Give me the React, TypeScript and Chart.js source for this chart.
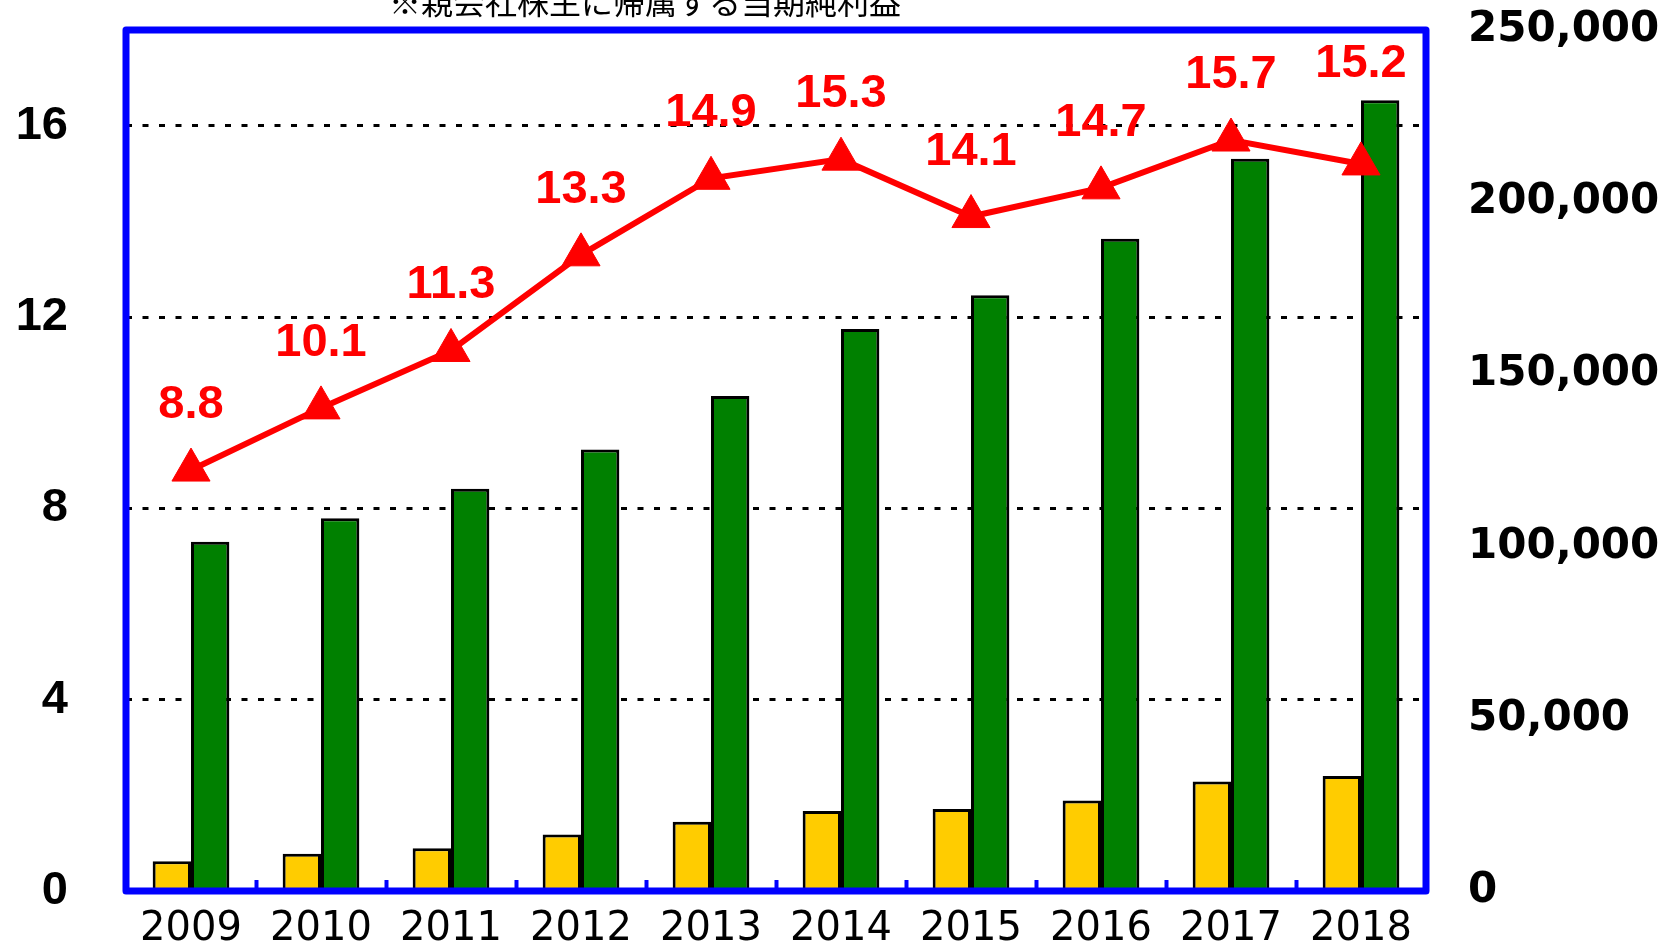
import React, { useEffect, useRef } from 'react';
import { Chart, registerables } from 'chart.js';

Chart.register(...registerables);

const YEARS = ['2009', '2010', '2011', '2012', '2013', '2014', '2015', '2016', '2017', '2018'];
const NET_INCOME = [8650, 10800, 12400, 16400, 20100, 23200, 23800, 26300, 31800, 33400];
const SALES = [101400, 108200, 116800, 128200, 143700, 163200, 173000, 189400, 212600, 229600];
const RATIO = [8.8, 10.1, 11.3, 13.3, 14.9, 15.3, 14.1, 14.7, 15.7, 15.2];
const LEFT_TICKS = [0, 4, 8, 12, 16];
const LEFT_MAX = 18;
const RIGHT_TICKS = [0, 50000, 100000, 150000, 200000, 250000];
const TITLE = '※親会社株主に帰属する当期純利益';

const BLUE = '#0000FF';

const frameAndLabels = {
  id: 'frameAndLabels',
  afterDatasetsDraw(chart: any) {
    const ctx = chart.ctx;
    const a = chart.chartArea;
    ctx.save();
    ctx.strokeStyle = BLUE;
    ctx.lineWidth = 7;
    ctx.lineJoin = 'round';
    ctx.strokeRect(a.left, a.top, a.right - a.left, a.bottom - a.top);
    ctx.restore();

    const meta = chart.getDatasetMeta(2);
    ctx.save();
    ctx.fillStyle = '#FF0000';
    ctx.font = "bold 47px 'Liberation Sans', Arial, sans-serif";
    ctx.textAlign = 'center';
    ctx.textBaseline = 'middle';
    meta.data.forEach((pt: any, i: number) => {
      const off = i === RATIO.length - 1 ? 100 : 65;
      ctx.fillText(RATIO[i].toFixed(1), pt.x, pt.y - off);
    });
    ctx.restore();
  },
  afterDraw(chart: any) {
    const ctx = chart.ctx;
    ctx.save();
    ctx.fillStyle = '#000';
    ctx.font = "32px 'Noto Sans CJK JP', sans-serif";
    ctx.textAlign = 'center';
    ctx.textBaseline = 'alphabetic';
    ctx.fillText(TITLE, 645, 14);
    ctx.restore();
  },
};

const noPad = (scale: any) => {
  scale.paddingTop = 0;
  scale.paddingBottom = 0;
  scale.paddingLeft = 0;
  scale.paddingRight = 0;
};

export default function App() {
  const ref = useRef<HTMLCanvasElement | null>(null);
  useEffect(() => {
    if (!ref.current) return;
    const chart = new Chart(ref.current, {
      type: 'bar',
      data: {
        labels: YEARS,
        datasets: [
          {
            type: 'bar',
            label: '親会社株主に帰属する当期純利益',
            data: NET_INCOME,
            yAxisID: 'y2',
            backgroundColor: '#FFCC00',
            borderColor: '#000',
            borderWidth: 3,
            order: 1,
          },
          {
            type: 'bar',
            label: '売上高',
            data: SALES,
            yAxisID: 'y2',
            backgroundColor: '#008000',
            borderColor: '#000',
            borderWidth: 3,
            order: 2,
          },
          {
            type: 'line',
            label: '比率',
            data: RATIO,
            yAxisID: 'y',
            borderColor: '#FF0000',
            backgroundColor: '#FF0000',
            borderWidth: 6,
            pointStyle: 'triangle',
            pointRadius: 22,
            pointBorderWidth: 1,
            pointBorderColor: '#FF0000',
            pointBackgroundColor: '#FF0000',
            order: 0,
          } as any,
        ],
      },
      options: {
        responsive: false,
        animation: false,
        layout: { padding: { top: 30, left: 0, right: 0, bottom: 0 } },
        plugins: {
          legend: { display: false },
          tooltip: { enabled: false },
          title: { display: false },
        },
        datasets: {
          bar: { categoryPercentage: 0.59, barPercentage: 1.0 },
        },
        scales: {
          x: {
            type: 'category',
            offset: true,
            grid: {
              display: true,
              offset: true,
              drawOnChartArea: false,
              drawTicks: true,
              tickLength: -11,
              tickColor: BLUE,
              tickWidth: 4,
              color: BLUE,
            },
            border: { display: false },
            ticks: {
              color: '#000',
              padding: 26,
              maxRotation: 0,
              autoSkip: false,
              font: { family: "'DejaVu Sans', sans-serif", size: 40, weight: 'normal' },
            },
            afterFit(scale: any) {
              scale.height = 55;
              noPad(scale);
            },
          },
          y: {
            type: 'linear',
            position: 'left',
            min: 0,
            max: LEFT_MAX,
            afterBuildTicks(axis: any) {
              axis.ticks = LEFT_TICKS.map((v) => ({ value: v }));
            },
            grid: {
              color: '#000',
              lineWidth: 3,
              drawTicks: false,
            },
            border: { display: false, dash: [6, 10.5] },
            ticks: {
              color: '#000',
              padding: 58,
              font: { family: "'Liberation Sans', Arial, sans-serif", size: 47, weight: 'bold' },
            },
            afterFit(scale: any) {
              scale.width = 126;
              noPad(scale);
            },
          },
          y2: {
            type: 'linear',
            position: 'right',
            min: 0,
            max: 250000,
            afterBuildTicks(axis: any) {
              axis.ticks = RIGHT_TICKS.map((v) => ({ value: v }));
            },
            grid: { display: false, drawTicks: false },
            border: { display: false },
            ticks: {
              color: '#000',
              padding: 42,
              callback: (v: any) => Number(v).toLocaleString('en-US'),
              font: { family: "'DejaVu Sans', sans-serif", size: 42, weight: 'bold' },
            },
            afterFit(scale: any) {
              scale.width = 246;
              noPad(scale);
            },
          },
        },
      } as any,
      plugins: [frameAndLabels],
    });
    return () => chart.destroy();
  }, []);

  return (
    <div style={{ position: 'fixed', left: 0, top: 0, width: 1672, height: 946, background: '#fff' }}>
      <canvas ref={ref} width={1672} height={946} style={{ display: 'block' }} />
    </div>
  );
}
